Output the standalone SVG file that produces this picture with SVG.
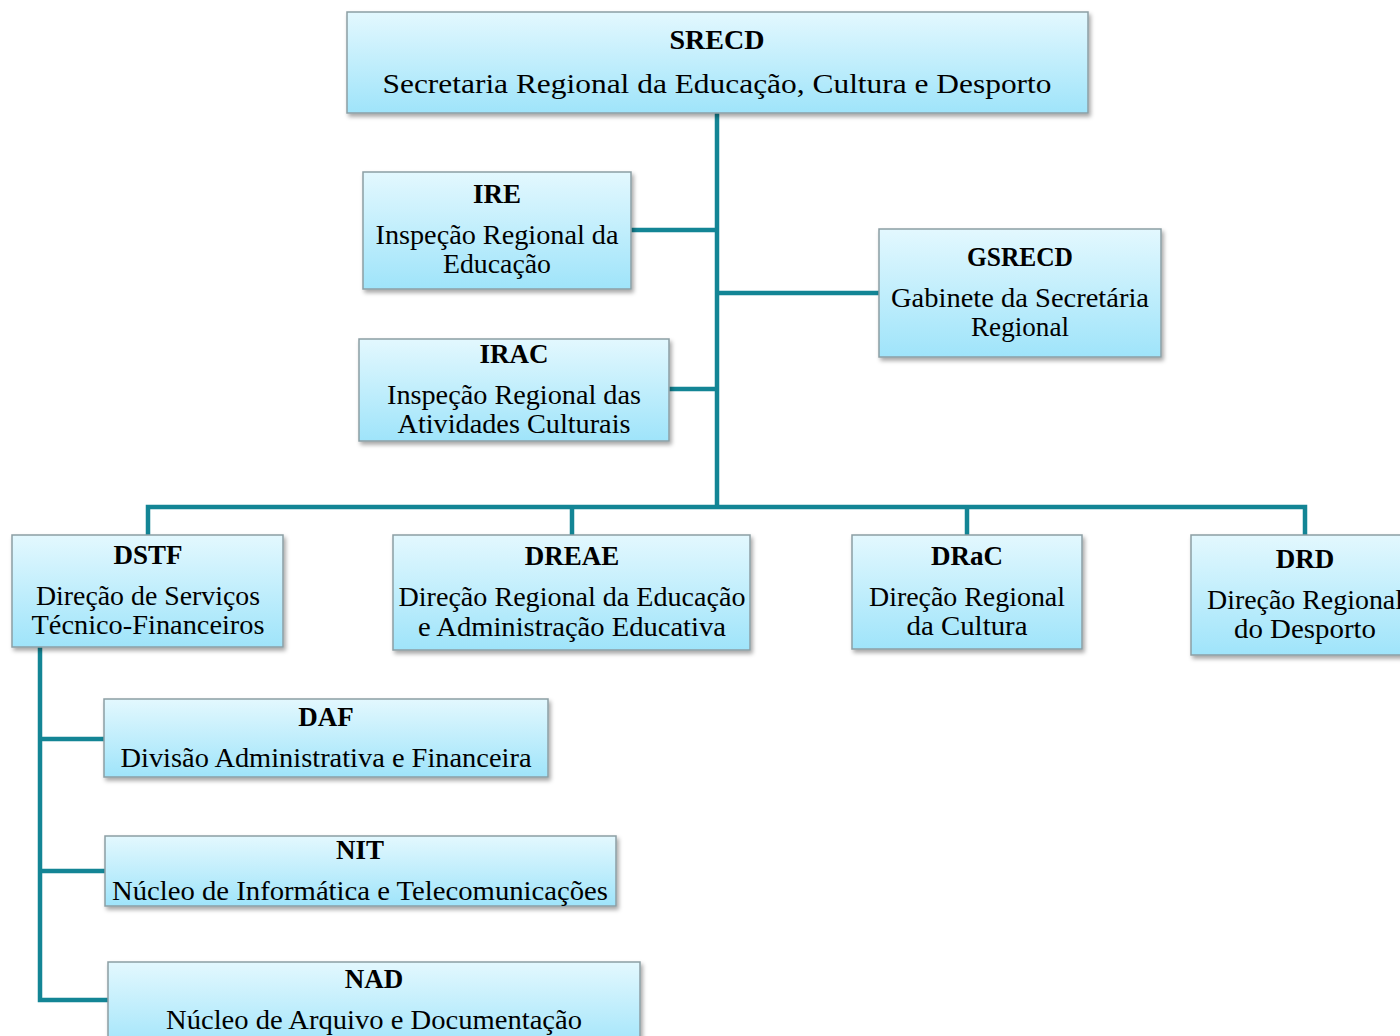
<svg xmlns="http://www.w3.org/2000/svg" width="1400" height="1036" viewBox="0 0 1400 1036">
<defs>
<linearGradient id="g" x1="0" y1="0" x2="0" y2="1">
<stop offset="0" stop-color="#e3f8fe"/>
<stop offset="1" stop-color="#9fe4fa"/>
</linearGradient>
<filter id="sh" x="-10%" y="-10%" width="120%" height="130%">
<feDropShadow dx="2" dy="3" stdDeviation="2" flood-color="#000" flood-opacity="0.35"/>
</filter>
</defs>
<style>
.box{fill:url(#g);stroke:#8c9ea4;stroke-width:1.5;filter:url(#sh)}
.t{font-family:"Liberation Serif","DejaVu Serif",serif;font-weight:bold;font-size:27px;fill:#000;text-anchor:middle}
.s{font-family:"Liberation Serif","DejaVu Serif",serif;font-size:27px;fill:#000;text-anchor:middle}
.c{fill:none;stroke:#138595;stroke-width:4.5;stroke-linejoin:miter}
</style>
<rect width="1400" height="1036" fill="#fff"/>
<g id="connectors">
<path class="c" d="M717 113 V507"/>
<path class="c" d="M631 230 H717"/>
<path class="c" d="M669 389 H717"/>
<path class="c" d="M717 293 H879"/>
<path class="c" d="M148 535 V507 H1305 V535"/>
<path class="c" d="M572 507 V535"/>
<path class="c" d="M967 507 V535"/>
<path class="c" d="M40 647 V1000 H108"/>
<path class="c" d="M40 739 H104"/>
<path class="c" d="M40 871 H105"/>
</g>
<g id="SRECD">
<rect class="box" x="347" y="12" width="741" height="101"/>
<text class="t" x="717" y="49" font-size="28" textLength="95" lengthAdjust="spacingAndGlyphs">SRECD</text>
<text class="s" x="717" y="93" font-size="29" textLength="669" lengthAdjust="spacingAndGlyphs">Secretaria Regional da Educação, Cultura e Desporto</text>
</g>
<g id="IRE">
<rect class="box" x="363" y="172" width="268" height="117"/>
<text class="t" x="497" y="203">IRE</text>
<text class="s" x="497" y="244" textLength="243" lengthAdjust="spacingAndGlyphs">Inspeção Regional da</text>
<text class="s" x="497" y="273" textLength="108" lengthAdjust="spacingAndGlyphs">Educação</text>
</g>
<g id="IRAC">
<rect class="box" x="359" y="339" width="310" height="102"/>
<text class="t" x="514" y="363">IRAC</text>
<text class="s" x="514" y="404" textLength="254" lengthAdjust="spacingAndGlyphs">Inspeção Regional das</text>
<text class="s" x="514" y="433" textLength="233" lengthAdjust="spacingAndGlyphs">Atividades Culturais</text>
</g>
<g id="GSRECD">
<rect class="box" x="879" y="229" width="282" height="128"/>
<text class="t" x="1020" y="266" textLength="106" lengthAdjust="spacingAndGlyphs">GSRECD</text>
<text class="s" x="1020" y="307" textLength="258" lengthAdjust="spacingAndGlyphs">Gabinete da Secretária</text>
<text class="s" x="1020" y="336" textLength="98" lengthAdjust="spacingAndGlyphs">Regional</text>
</g>
<g id="DSTF">
<rect class="box" x="12" y="535" width="271" height="112"/>
<text class="t" x="148" y="564">DSTF</text>
<text class="s" x="148" y="605" textLength="224" lengthAdjust="spacingAndGlyphs">Direção de Serviços</text>
<text class="s" x="148" y="634" textLength="233" lengthAdjust="spacingAndGlyphs">Técnico-Financeiros</text>
</g>
<g id="DREAE">
<rect class="box" x="393" y="535" width="357" height="115"/>
<text class="t" x="572" y="565">DREAE</text>
<text class="s" x="572" y="606" textLength="347" lengthAdjust="spacingAndGlyphs">Direção Regional da Educação</text>
<text class="s" x="572" y="636" textLength="308" lengthAdjust="spacingAndGlyphs">e Administração Educativa</text>
</g>
<g id="DRaC">
<rect class="box" x="852" y="535" width="230" height="114"/>
<text class="t" x="967" y="565">DRaC</text>
<text class="s" x="967" y="606" textLength="196" lengthAdjust="spacingAndGlyphs">Direção Regional</text>
<text class="s" x="967" y="635" textLength="121" lengthAdjust="spacingAndGlyphs">da Cultura</text>
</g>
<g id="DRD">
<rect class="box" x="1191" y="535" width="220" height="120"/>
<text class="t" x="1305" y="568">DRD</text>
<text class="s" x="1305" y="609" textLength="196" lengthAdjust="spacingAndGlyphs">Direção Regional</text>
<text class="s" x="1305" y="638" textLength="142" lengthAdjust="spacingAndGlyphs">do Desporto</text>
</g>
<g id="DAF">
<rect class="box" x="104" y="699" width="444" height="78"/>
<text class="t" x="326" y="726">DAF</text>
<text class="s" x="326" y="767" textLength="411" lengthAdjust="spacingAndGlyphs">Divisão Administrativa e Financeira</text>
</g>
<g id="NIT">
<rect class="box" x="105" y="836" width="511" height="70"/>
<text class="t" x="360" y="859">NIT</text>
<text class="s" x="360" y="900" textLength="496" lengthAdjust="spacingAndGlyphs">Núcleo de Informática e Telecomunicações</text>
</g>
<g id="NAD">
<rect class="box" x="108" y="962" width="532" height="90"/>
<text class="t" x="374" y="988">NAD</text>
<text class="s" x="374" y="1029" textLength="416" lengthAdjust="spacingAndGlyphs">Núcleo de Arquivo e Documentação</text>
</g>
</svg>
